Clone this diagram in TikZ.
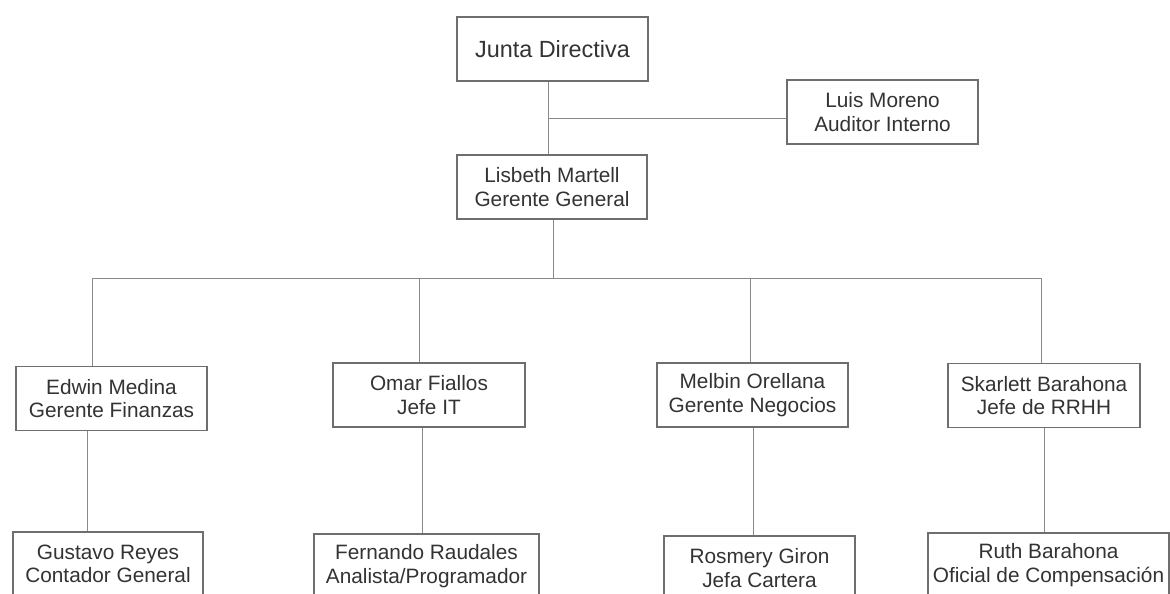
\documentclass[tikz,border=0pt]{standalone}
\usepackage{fontspec}
\setmainfont{Liberation Sans}
\definecolor{txt}{HTML}{333333}
\definecolor{edge}{HTML}{8A8A8A}
\definecolor{frame}{HTML}{6E6E6E}
\begin{document}
\begin{tikzpicture}[x=1pt,y=-1pt,
  orgbox/.style={draw=frame,line width=1.1pt,fill=white,inner sep=0pt,
    minimum width=191pt,minimum height=64pt,align=center,text=txt,
    font=\fontsize{20.8pt}{23.5pt}\selectfont},
  link/.style={draw=edge,line width=1pt}]
\clip (0,0) rectangle (1170,594);
\fill[white] (0,0) rectangle (1170,594);
% nodes
\node[orgbox,font=\fontsize{23.4pt}{26pt}\selectfont] (junta) at (552.5,49) {Junta Directiva};
\node[orgbox] (luis) at (882.5,112) {Luis Moreno\\Auditor Interno};
\node[orgbox,minimum width=190pt] (lisbeth) at (552,187) {Lisbeth Martell\\Gerente General};
\node[orgbox] (edwin) at (111.5,398.5) {Edwin Medina\\Gerente Finanzas};
\node[orgbox,minimum width=192pt] (omar) at (429,395) {Omar Fiallos\\Jefe IT};
\node[orgbox] (melbin) at (752.5,395) {Melbin Orellana\\Gerente Negocios};
\node[orgbox,minimum width=192pt] (skarlett) at (1044,395.5) {Skarlett Barahona\\Jefe de RRHH};
\node[orgbox,minimum width=190pt] (gustavo) at (108,564) {Gustavo Reyes\\Contador General};
\node[orgbox,minimum width=225pt] (fernando) at (426.5,566) {Fernando Raudales\\Analista/Programador};
\node[orgbox] (rosmery) at (759.5,568) {Rosmery Giron\\Jefa Cartera};
\node[orgbox,minimum width=241pt] (ruth) at (1048.5,565) {Ruth Barahona\\Oficial de Compensación};
% top connectors
\coordinate (jt) at ([xshift=-4.5pt]junta.south);
\draw[link] (jt) -- (jt |- lisbeth.north);
\coordinate (la) at ([yshift=-6pt]luis.west);
\draw[link] (jt |- la) -- (la);
% bus
\coordinate (busL) at (92,278);
\coordinate (busR) at (1041,278);
\draw[link] (busL) -- (busR);
\draw[link] ([xshift=1pt]lisbeth.south) -- ([xshift=1pt]lisbeth.south |- busL);
\coordinate (dO) at (419,278);
\coordinate (dM) at (750,278);
\draw[link] (busL) -- (busL |- edwin.north);
\draw[link] (dO) -- (dO |- omar.north);
\draw[link] (dM) -- (dM |- melbin.north);
\draw[link] (busR) -- (busR |- skarlett.north);
% lower drops
\coordinate (e1) at ([xshift=-24.5pt]edwin.south);
\draw[link] (e1) -- (e1 |- gustavo.north);
\coordinate (o1) at ([xshift=-7pt]omar.south);
\draw[link] (o1) -- (o1 |- fernando.north);
\coordinate (m1) at ([xshift=0.5pt]melbin.south);
\draw[link] (m1) -- (m1 |- rosmery.north);
\coordinate (s1) at (skarlett.south);
\draw[link] (s1) -- (s1 |- ruth.north);
\end{tikzpicture}
\end{document}
